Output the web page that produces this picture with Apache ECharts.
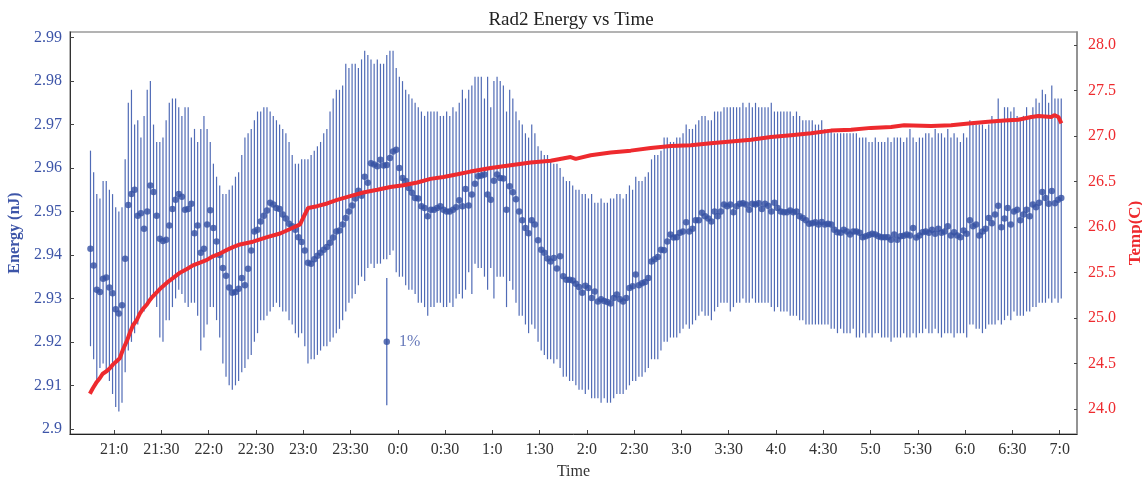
<!DOCTYPE html>
<html>
<head>
<meta charset="utf-8">
<title>Rad2 Energy vs Time</title>
<script src="https://cdn.jsdelivr.net/npm/echarts@6/dist/echarts.min.js"></script>
<style>
  html, body { margin: 0; padding: 0; background: #fff; }
  #chart { width: 1142px; height: 482px; }
</style>
</head>
<body>
<div id="chart"></div>
<script>
// minutes after 21:00, one sample every 2 minutes starting at 20:45
var sampleStart = -15;
var sampleStep = 2;

var energyMean = [
  2.9414, 2.9376, 2.9320, 2.9315, 2.9345, 2.9348, 2.9325, 2.9312, 2.9275, 2.9265,
  2.9284, 2.9391, 2.9515, 2.9540, 2.9550, 2.9490, 2.9496, 2.9460, 2.9500, 2.9560,
  2.9545, 2.9490, 2.9437, 2.9432, 2.9435, 2.9468, 2.9506, 2.9527, 2.9540, 2.9534,
  2.9504, 2.9506, 2.9518, 2.9450, 2.9468, 2.9405, 2.9414, 2.9470, 2.9503, 2.9462,
  2.9431, 2.9400, 2.9370, 2.9352, 2.9325, 2.9313, 2.9315, 2.9322, 2.9347, 2.9330,
  2.9368, 2.9410, 2.9454, 2.9458, 2.9477, 2.9490, 2.9502, 2.9520, 2.9516, 2.9508,
  2.9506, 2.9493, 2.9484, 2.9472, 2.9466, 2.9458, 2.9441, 2.9430, 2.9410, 2.9382,
  2.9380, 2.9390, 2.9398, 2.9405, 2.9412, 2.9418, 2.9428, 2.9440, 2.9454, 2.9456,
  2.9470, 2.9485, 2.9500, 2.9514, 2.9530, 2.9548, 2.9536, 2.9580, 2.9566, 2.9611,
  2.9608, 2.9604, 2.9619, 2.9606, 2.9607, 2.9623, 2.9638, 2.9642, 2.9600, 2.9577,
  2.9570, 2.9554, 2.9543, 2.9531, 2.9530, 2.9512, 2.9508, 2.9489, 2.9504, 2.9504,
  2.9508, 2.9512, 2.9504, 2.9500, 2.9500, 2.9504, 2.9510, 2.9526, 2.9512, 2.9552,
  2.9514, 2.9539, 2.9564, 2.9581, 2.9583, 2.9585, 2.9539, 2.9527, 2.9571, 2.9585,
  2.9577, 2.9576, 2.9504, 2.9558, 2.9544, 2.9528, 2.9500, 2.9480, 2.9462, 2.9450,
  2.9480, 2.9470, 2.9434, 2.9412, 2.9405, 2.9392, 2.9385, 2.9393, 2.9369, 2.9397,
  2.9351, 2.9343, 2.9343, 2.9341, 2.9334, 2.9326, 2.9313, 2.9329, 2.9324, 2.9301,
  2.9316, 2.9293, 2.9298, 2.9294, 2.9292, 2.9288, 2.9301, 2.9309, 2.9298, 2.9293,
  2.9301, 2.9324, 2.9328, 2.9355, 2.9330, 2.9335, 2.9338, 2.9347, 2.9385, 2.9390,
  2.9395, 2.9412, 2.9411, 2.9431, 2.9447, 2.9440, 2.9441, 2.9451, 2.9454, 2.9475,
  2.9454, 2.9460, 2.9480, 2.9480, 2.9497, 2.9489, 2.9484, 2.9477, 2.9500, 2.9489,
  2.9500, 2.9516, 2.9512, 2.9516, 2.9498, 2.9512, 2.9518, 2.9519, 2.9516, 2.9504,
  2.9518, 2.9516, 2.9519, 2.9506, 2.9518, 2.9513, 2.9500, 2.9520, 2.9508, 2.9500,
  2.9498, 2.9498, 2.9502, 2.9498, 2.9500, 2.9489, 2.9485, 2.9480, 2.9472, 2.9473,
  2.9475, 2.9470, 2.9476, 2.9470, 2.9472, 2.9470, 2.9458, 2.9452, 2.9451, 2.9458,
  2.9454, 2.9447, 2.9454, 2.9454, 2.9451, 2.9441, 2.9443, 2.9446, 2.9449, 2.9447,
  2.9443, 2.9441, 2.9441, 2.9441, 2.9435, 2.9447, 2.9435, 2.9443, 2.9444, 2.9447,
  2.9445, 2.9462, 2.9440, 2.9445, 2.9452, 2.9454, 2.9451, 2.9458, 2.9449, 2.9460,
  2.9451, 2.9454, 2.9466, 2.9445, 2.9452, 2.9445, 2.9441, 2.9456, 2.9449, 2.9480,
  2.9466, 2.9470, 2.9445, 2.9454, 2.9460, 2.9485, 2.9473, 2.9493, 2.9513, 2.9464,
  2.9484, 2.9508, 2.9470, 2.9500, 2.9504, 2.9480, 2.9493, 2.9504, 2.9489, 2.9516,
  2.9510, 2.9520, 2.9545, 2.9531, 2.9518, 2.9547, 2.9519, 2.9527, 2.9531
];

var energyHigh = [
  2.964, 2.959, 2.954, 2.953, 2.957, 2.957, 2.955, 2.954, 2.951, 2.950,
  2.951, 2.962, 2.975, 2.978, 2.970, 2.971, 2.967, 2.972, 2.978, 2.980,
  2.970, 2.966, 2.966, 2.967, 2.971, 2.975, 2.976, 2.976, 2.974, 2.972,
  2.974, 2.974, 2.967, 2.969, 2.966, 2.969, 2.972, 2.969, 2.966, 2.961,
  2.958, 2.956, 2.954, 2.954, 2.955, 2.956, 2.958, 2.959, 2.963, 2.967,
  2.968, 2.969, 2.971, 2.973, 2.973, 2.974, 2.974, 2.973, 2.972, 2.971,
  2.970, 2.969, 2.968, 2.966, 2.963, 2.961, 2.961, 2.962, 2.962, 2.962,
  2.963, 2.964, 2.965, 2.966, 2.968, 2.969, 2.973, 2.976, 2.978, 2.978,
  2.979, 2.984, 2.983, 2.984, 2.984, 2.983, 2.985, 2.987, 2.986, 2.985,
  2.984, 2.985, 2.984, 2.984, 2.986, 2.987, 2.987, 2.983, 2.981, 2.980,
  2.978, 2.977, 2.976, 2.975, 2.974, 2.973, 2.972, 2.973, 2.973, 2.973,
  2.973, 2.972, 2.972, 2.973, 2.972, 2.974, 2.973, 2.975, 2.978, 2.976,
  2.978, 2.979, 2.981, 2.981, 2.981, 2.976, 2.981, 2.974, 2.980, 2.981,
  2.980, 2.979, 2.973, 2.978, 2.976, 2.973, 2.971, 2.970, 2.968, 2.967,
  2.970, 2.968, 2.965, 2.964, 2.963, 2.963, 2.962, 2.961, 2.961, 2.960,
  2.958, 2.957, 2.957, 2.956, 2.955, 2.955, 2.954, 2.954, 2.953, 2.954,
  2.952, 2.952, 2.953, 2.952, 2.952, 2.953, 2.953, 2.954, 2.954, 2.953,
  2.954, 2.956, 2.955, 2.958, 2.957, 2.957, 2.958, 2.959, 2.962, 2.963,
  2.963, 2.964, 2.967, 2.967, 2.966, 2.966, 2.967, 2.967, 2.968, 2.970,
  2.969, 2.969, 2.970, 2.971, 2.972, 2.972, 2.971, 2.971, 2.973, 2.973,
  2.973, 2.974, 2.974, 2.974, 2.974, 2.974, 2.974, 2.975, 2.974, 2.975,
  2.974, 2.975, 2.974, 2.974, 2.974, 2.974, 2.975, 2.973, 2.973, 2.973,
  2.973, 2.973, 2.973, 2.972, 2.973, 2.972, 2.971, 2.971, 2.971, 2.971,
  2.970, 2.970, 2.971, 2.969, 2.969, 2.969, 2.968, 2.968, 2.968, 2.968,
  2.968, 2.968, 2.968, 2.968, 2.967, 2.967, 2.967, 2.966, 2.966, 2.967,
  2.966, 2.966, 2.966, 2.967, 2.966, 2.967, 2.967, 2.967, 2.966, 2.967,
  2.969, 2.967, 2.966, 2.967, 2.967, 2.968, 2.968, 2.967, 2.969, 2.968,
  2.968, 2.967, 2.969, 2.967, 2.968, 2.967, 2.966, 2.968, 2.967, 2.971,
  2.970, 2.970, 2.970, 2.970, 2.969, 2.970, 2.972, 2.971, 2.976, 2.971,
  2.974, 2.974, 2.973, 2.974, 2.972, 2.971, 2.972, 2.974, 2.972, 2.974,
  2.976, 2.975, 2.978, 2.977, 2.975, 2.979, 2.976, 2.976, 2.976
];

var energyLow = [
  2.919, 2.916, 2.911, 2.914, 2.915, 2.913, 2.911, 2.908, 2.905, 2.904,
  2.906, 2.913, 2.918, 2.920, 2.922, 2.924, 2.927, 2.927, 2.929, 2.930,
  2.931, 2.928, 2.921, 2.920, 2.925, 2.925, 2.928, 2.930, 2.932, 2.931,
  2.929, 2.928, 2.929, 2.929, 2.926, 2.918, 2.921, 2.924, 2.928, 2.928,
  2.925, 2.921, 2.915, 2.912, 2.910, 2.909, 2.910, 2.911, 2.913, 2.914,
  2.916, 2.917, 2.920, 2.922, 2.925, 2.925, 2.926, 2.927, 2.928, 2.929,
  2.928, 2.927, 2.927, 2.925, 2.924, 2.922, 2.921, 2.922, 2.919, 2.915,
  2.916, 2.916, 2.917, 2.918, 2.919, 2.919, 2.920, 2.921, 2.922, 2.923,
  2.925, 2.927, 2.929, 2.930, 2.931, 2.933, 2.935, 2.934, 2.937, 2.938,
  2.937, 2.938, 2.938, 2.939, 2.939, 2.940, 2.941, 2.936, 2.935, 2.935,
  2.933, 2.932, 2.932, 2.931, 2.929, 2.929, 2.928, 2.926, 2.928, 2.928,
  2.929, 2.929, 2.928, 2.928, 2.929, 2.928, 2.930, 2.931, 2.930, 2.932,
  2.936, 2.931, 2.938, 2.937, 2.937, 2.935, 2.932, 2.937, 2.930, 2.935,
  2.935, 2.935, 2.928, 2.934, 2.932, 2.929, 2.926, 2.926, 2.924, 2.922,
  2.924, 2.923, 2.920, 2.918, 2.917, 2.916, 2.916, 2.915, 2.916, 2.914,
  2.912, 2.912, 2.911, 2.911, 2.910, 2.909, 2.909, 2.908, 2.909, 2.907,
  2.907, 2.907, 2.906, 2.907, 2.906, 2.906, 2.907, 2.908, 2.908, 2.908,
  2.909, 2.910, 2.911, 2.911, 2.912, 2.912, 2.913, 2.914, 2.916, 2.916,
  2.916, 2.918, 2.920, 2.920, 2.921, 2.921, 2.921, 2.922, 2.923, 2.924,
  2.923, 2.924, 2.925, 2.926, 2.927, 2.926, 2.926, 2.925, 2.927, 2.928,
  2.929, 2.929, 2.929, 2.927, 2.928, 2.929, 2.929, 2.930, 2.929, 2.929,
  2.930, 2.929, 2.929, 2.929, 2.929, 2.929, 2.928, 2.927, 2.928, 2.927,
  2.927, 2.927, 2.926, 2.926, 2.926, 2.925, 2.925, 2.924, 2.924, 2.924,
  2.924, 2.924, 2.924, 2.924, 2.924, 2.923, 2.923, 2.922, 2.923, 2.922,
  2.922, 2.922, 2.923, 2.921, 2.921, 2.922, 2.921, 2.922, 2.921, 2.922,
  2.922, 2.921, 2.921, 2.921, 2.920, 2.921, 2.921, 2.921, 2.922, 2.921,
  2.921, 2.922, 2.921, 2.922, 2.922, 2.923, 2.922, 2.922, 2.923, 2.922,
  2.921, 2.922, 2.922, 2.922, 2.921, 2.922, 2.922, 2.922, 2.921, 2.924,
  2.924, 2.923, 2.923, 2.922, 2.923, 2.924, 2.924, 2.924, 2.925, 2.924,
  2.925, 2.926, 2.925, 2.927, 2.926, 2.926, 2.926, 2.927, 2.927, 2.928,
  2.928, 2.929, 2.929, 2.929, 2.930, 2.929, 2.930, 2.929, 2.930
];

// temperature trace (minutes after 21:00, degrees C)
var tempTimes = [
  -15.4, -13.5, -11.0, -9.1, -7.2, -4.6, -2.7, -0.8, 1.7, 3.6,
  5.5, 8.1, 10.0, 11.9, 14.4, 16.3, 18.2, 20.8, 22.7, 24.6,
  29.0, 33.5, 37.3, 41.8, 46.2, 50.0, 54.5, 58.9, 62.7, 67.2,
  71.6, 75.4, 79.9, 88.1, 97.1, 105.3, 111.7, 118.0, 119.9, 123.1,
  128.8, 135.2, 141.5, 149.8, 158.1, 167.0, 175.3, 183.5, 192.4, 200.7,
  209.0, 217.9, 226.1, 238.9, 251.6, 264.3, 277.0, 289.7, 292.9, 302.4,
  315.1, 327.8, 340.5, 353.2, 365.9, 378.6, 391.4, 404.1, 416.8, 429.5,
  442.2, 454.9, 467.6, 480.3, 493.0, 501.3, 518.4, 531.1, 543.8, 556.5,
  564.8, 573.7, 582.0, 586.5, 594.7, 596.6, 599.2, 601.1
];
var tempValues = [
  24.17, 24.23, 24.30, 24.34, 24.39, 24.42, 24.45, 24.49, 24.53, 24.56,
  24.65, 24.75, 24.84, 24.92, 24.98, 25.05, 25.10, 25.15, 25.20, 25.24,
  25.32, 25.39, 25.44, 25.50, 25.54, 25.58, 25.61, 25.64, 25.68, 25.71,
  25.75, 25.78, 25.81, 25.84, 25.89, 25.93, 25.98, 26.03, 26.10, 26.21,
  26.23, 26.26, 26.30, 26.34, 26.38, 26.41, 26.44, 26.46, 26.49, 26.53,
  26.55, 26.58, 26.61, 26.65, 26.68, 26.71, 26.73, 26.77, 26.75, 26.79,
  26.82, 26.84, 26.87, 26.89, 26.90, 26.92, 26.94, 26.96, 26.99, 27.01,
  27.03, 27.06, 27.07, 27.09, 27.10, 27.12, 27.11, 27.12, 27.14, 27.16,
  27.17, 27.18, 27.21, 27.22, 27.21, 27.23, 27.21, 27.14
];

// the 1% scale marker
var refTime = 173;
var refValue = 2.92;
var refLow = 2.9054;
var refHigh = 2.9347;
var refText = '1%';

var timeTicks = [0, 30, 60, 90, 120, 150, 180, 210, 240, 270, 300,
  330, 360, 390, 420, 450, 480, 510, 540, 570, 600];
var timeLabels = ['21:0', '21:30', '22:0', '22:30', '23:0', '23:30', '0:0',
  '0:30', '1:0', '1:30', '2:0', '2:30', '3:0', '3:30', '4:0', '4:30', '5:0',
  '5:30', '6:0', '6:30', '7:0'];
var energyTicks = [2.9, 2.91, 2.92, 2.93, 2.94, 2.95, 2.96, 2.97, 2.98, 2.99];
var energyLabels = ['2.9', '2.91', '2.92', '2.93', '2.94', '2.95', '2.96', '2.97', '2.98', '2.99'];
var tempTicks = [24, 24.5, 25, 25.5, 26, 26.5, 27, 27.5, 28];
var tempLabels = ['24.0', '24.5', '25.0', '25.5', '26.0', '26.5', '27.0', '27.5', '28.0'];

var FONT = '"Liberation Serif", "DejaVu Serif", serif';
var BLUE = '#3d55a8';
var RED = '#ee2a2e';

function lookup(ticks, labels) {
    return function (v) {
        for (var i = 0; i < ticks.length; i++) {
            if (Math.abs(ticks[i] - v) < 1e-6) return labels[i];
        }
        return '';
    };
}

var barData = [], dotData = [], tempData = [];
energyMean.forEach(function (m, i) {
    var t = sampleStart + i * sampleStep;
    barData.push([t, energyLow[i], energyHigh[i]]);
    dotData.push([t, m]);
});
tempTimes.forEach(function (t, i) {
    tempData.push([t, tempValues[i]]);
});

function renderBar(color, width) {
    return function (params, api) {
        var p1 = api.coord([api.value(0), api.value(1)]);
        var p2 = api.coord([api.value(0), api.value(2)]);
        return {
            type: 'line',
            shape: { x1: p1[0], y1: p1[1], x2: p2[0], y2: p2[1] },
            style: { stroke: color, lineWidth: width }
        };
    };
}

var chart = echarts.init(document.getElementById('chart'), null, { renderer: 'canvas' });

var option = {
    animation: false,
    backgroundColor: '#fff',
    title: {
        text: 'Rad2 Energy vs Time',
        left: 'center',
        top: 6,
        textStyle: { fontFamily: FONT, fontSize: 19, fontWeight: 'normal', color: '#222' }
    },
    grid: {
        left: 70, right: 65, top: 32, bottom: 48,
        containLabel: false,
        outerBoundsMode: 'none',
        show: true, borderColor: '#9a9a9a', borderWidth: 1.5
    },
    xAxis: {
        type: 'value',
        min: -28,
        max: 611,
        name: 'Time',
        nameLocation: 'middle',
        nameGap: 30,
        nameTextStyle: { fontFamily: FONT, fontSize: 16, color: '#333' },
        splitLine: { show: false },
        axisLine: { show: true, onZero: false, lineStyle: { color: '#222', width: 1 } },
        axisTick: { show: true, inside: true, length: 4, customValues: timeTicks, lineStyle: { color: '#444' } },
        axisLabel: {
            customValues: timeTicks,
            formatter: lookup(timeTicks, timeLabels),
            fontFamily: FONT, fontSize: 16, color: '#333', margin: 8
        }
    },
    yAxis: [
        {
            type: 'value',
            min: 2.8988,
            max: 2.9913,
            name: 'Energy (nJ)',
            nameLocation: 'middle',
            nameRotate: 90,
            nameGap: 46,
            nameTextStyle: { fontFamily: FONT, fontSize: 16, fontWeight: 'bold', color: BLUE },
            splitLine: { show: false },
            axisLine: { show: true, onZero: false, lineStyle: { color: '#333', width: 1 } },
            axisTick: { show: true, inside: true, length: 4, customValues: energyTicks, lineStyle: { color: '#444' } },
            axisLabel: {
                customValues: energyTicks,
                formatter: lookup(energyTicks, energyLabels),
                fontFamily: FONT, fontSize: 16, color: BLUE, margin: 8
            }
        },
        {
            type: 'value',
            position: 'right',
            min: 23.728,
            max: 28.143,
            name: 'Temp(C)',
            nameLocation: 'middle',
            nameRotate: 90,
            nameGap: 50,
            nameTextStyle: { fontFamily: FONT, fontSize: 17, fontWeight: 'bold', color: RED },
            splitLine: { show: false },
            axisLine: { show: true, onZero: false, lineStyle: { color: '#888', width: 1.5 } },
            axisTick: { show: true, inside: true, length: 3, customValues: tempTicks, lineStyle: { color: '#444' } },
            axisLabel: {
                customValues: tempTicks,
                formatter: lookup(tempTicks, tempLabels),
                fontFamily: FONT, fontSize: 16, color: RED, margin: 11
            }
        }
    ],
    series: [
        {
            name: 'range',
            type: 'custom',
            renderItem: renderBar('#506bb6', 1.2),
            encode: { x: 0, y: [1, 2] },
            data: barData,
            z: 1
        },
        {
            name: 'energy',
            type: 'scatter',
            symbol: 'circle',
            symbolSize: 6.5,
            itemStyle: { color: '#3550a2' },
            data: dotData,
            z: 2
        },
        {
            name: 'temp',
            type: 'line',
            yAxisIndex: 1,
            showSymbol: false,
            symbol: 'none',
            lineStyle: { color: RED, width: 4 },
            data: tempData,
            z: 3
        },
        {
            name: 'scale',
            type: 'custom',
            renderItem: renderBar('#5f78bd', 1.4),
            encode: { x: 0, y: [1, 2] },
            data: [[refTime, refLow, refHigh]],
            z: 2
        },
        {
            name: 'scaleDot',
            type: 'scatter',
            symbolSize: 6.5,
            itemStyle: { color: '#3550a2' },
            label: {
                show: true,
                position: 'right',
                distance: 9,
                formatter: refText,
                fontFamily: FONT,
                fontSize: 16,
                color: BLUE
            },
            data: [[refTime, refValue]],
            z: 2
        }
    ]
};

chart.setOption(option);
</script>
</body>
</html>
